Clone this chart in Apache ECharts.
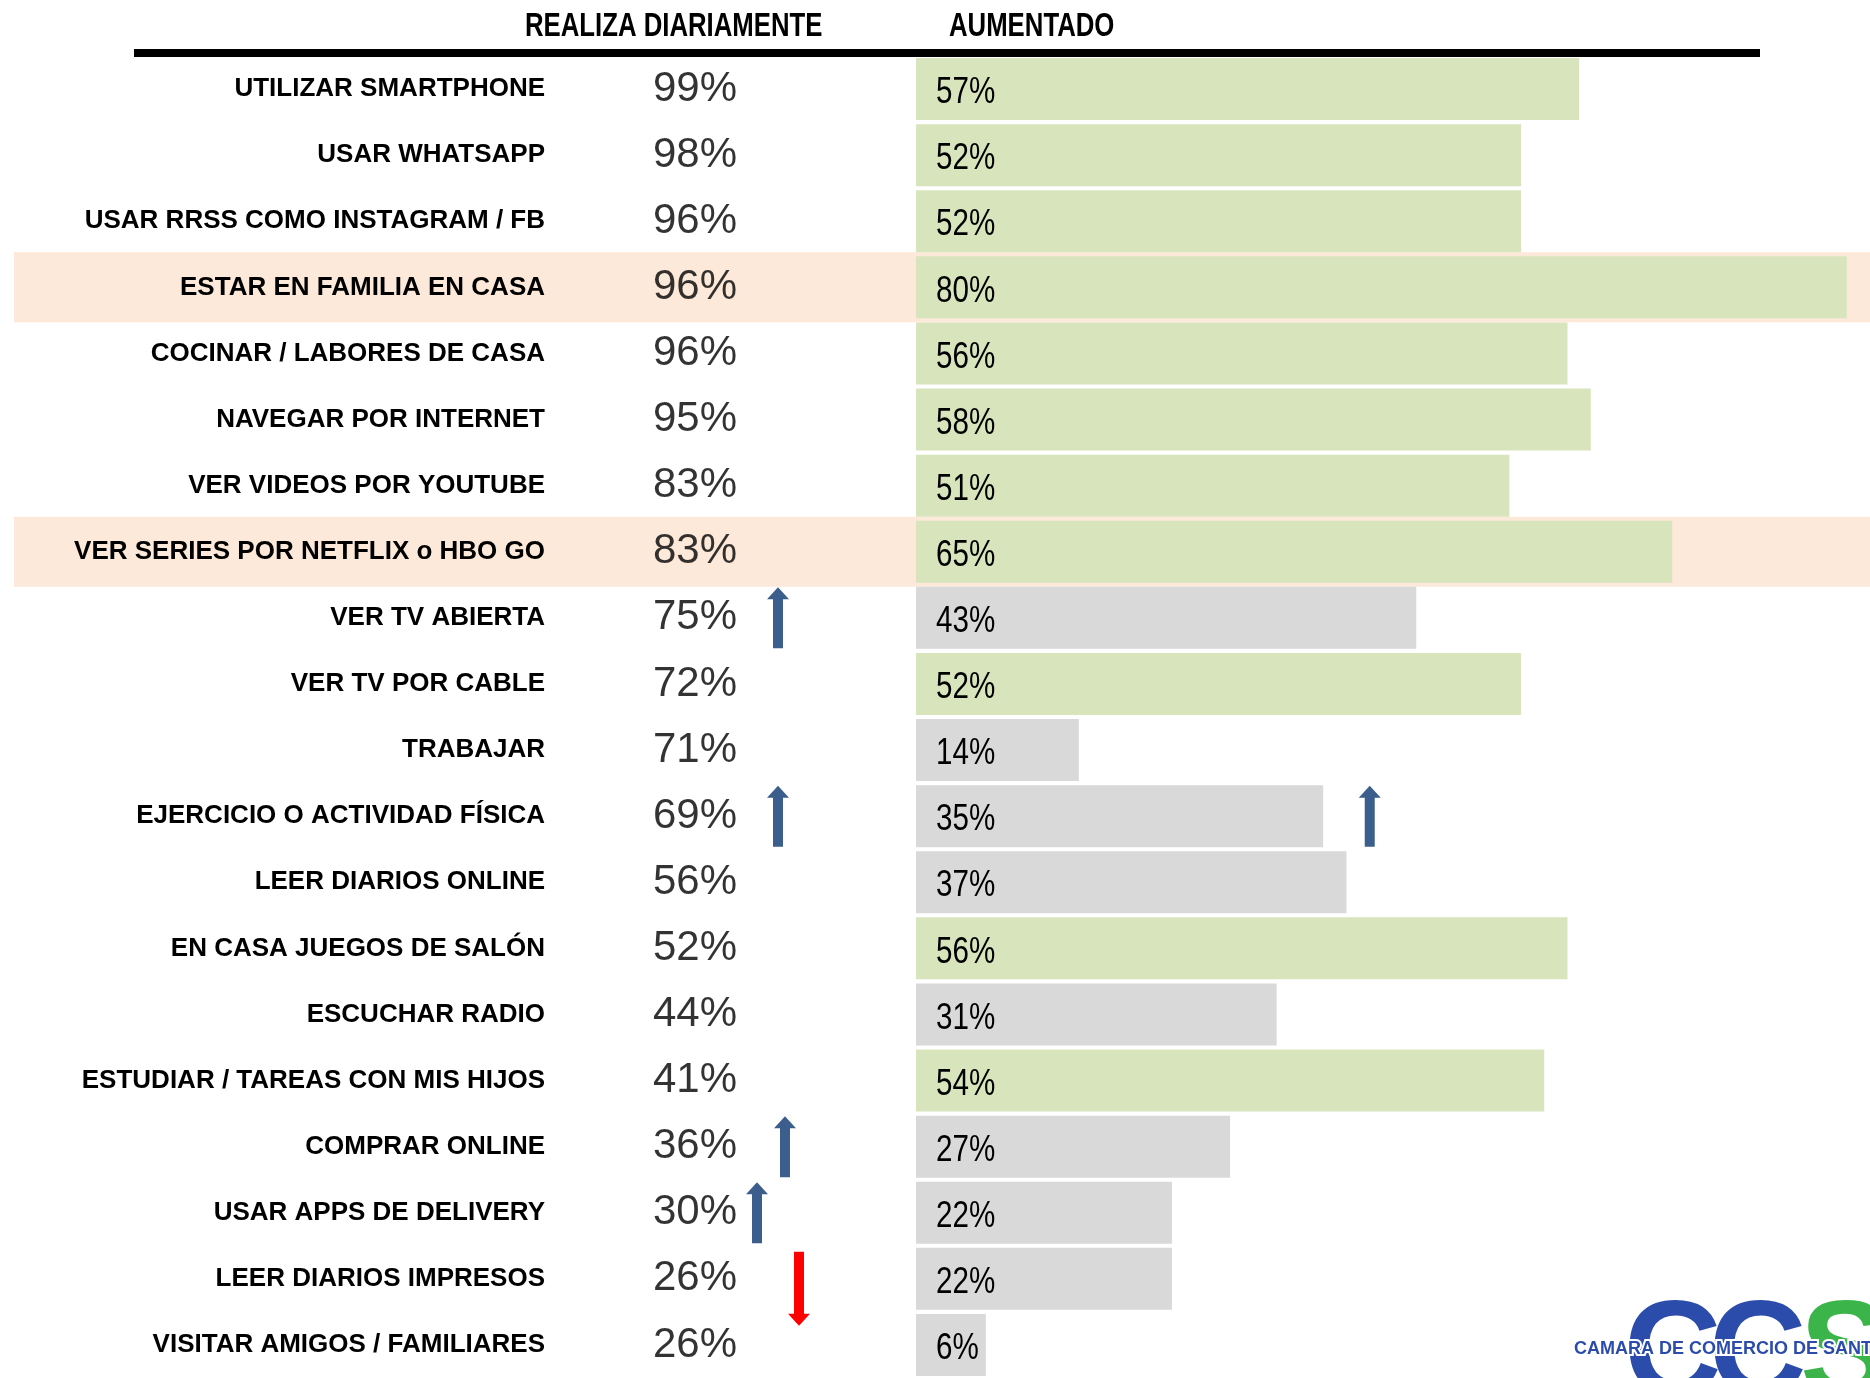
<!DOCTYPE html>
<html>
<head>
<meta charset="utf-8">
<script src="https://cdn.jsdelivr.net/npm/echarts@6/dist/echarts.min.js"></script>
<style>
  html, body { margin: 0; padding: 0; background: #fff; }
  #main { width: 1870px; height: 1378px; }
</style>
</head>
<body>
<div id="main"></div>
<script>
// datos
const activities = [
  'UTILIZAR SMARTPHONE',
  'USAR WHATSAPP',
  'USAR RRSS COMO INSTAGRAM / FB',
  'ESTAR EN FAMILIA EN CASA',
  'COCINAR / LABORES DE CASA',
  'NAVEGAR POR INTERNET',
  'VER VIDEOS POR YOUTUBE',
  'VER SERIES POR NETFLIX o HBO GO',
  'VER TV ABIERTA',
  'VER TV POR CABLE',
  'TRABAJAR',
  'EJERCICIO O ACTIVIDAD FÍSICA',
  'LEER DIARIOS ONLINE',
  'EN CASA JUEGOS DE SALÓN',
  'ESCUCHAR RADIO',
  'ESTUDIAR / TAREAS CON MIS HIJOS',
  'COMPRAR ONLINE',
  'USAR APPS DE DELIVERY',
  'LEER DIARIOS IMPRESOS',
  'VISITAR AMIGOS / FAMILIARES'
];
const dailyPct = [99, 98, 96, 96, 96, 95, 83, 83, 75, 72, 71, 69, 56, 52, 44, 41, 36, 30, 26, 26];
const increasedPct = [57, 52, 52, 80, 56, 58, 51, 65, 43, 52, 14, 35, 37, 56, 31, 54, 27, 22, 22, 6];
// 1 = barra verde, 0 = barra gris
const greenRows = [1, 1, 1, 1, 1, 1, 1, 1, 0, 1, 0, 0, 0, 1, 0, 1, 0, 0, 0, 0];
// filas destacadas (fondo naranja)
const highlightRows = [0, 0, 0, 1, 0, 0, 0, 1, 0, 0, 0, 0, 0, 0, 0, 0, 0, 0, 0, 0];
// flechas de tendencia: fila, dirección
const dailyTrends = [[8, 'up'], [11, 'up'], [16, 'up'], [17, 'up'], [18, 'down']];
const increasedTrends = [[11, 'up']];

// layout
const ROWS_TOP = 56;
const ROWS_HEIGHT = 1327;
const DAILY_X = 135;
const ARROW_X = { 8: 218, 11: 218, 16: 225, 17: 197, 18: 239 };
const ARROW_BAR_VALUE = 39;
const BAR_H = 62;
const BLUE = '#3B5E8C';
const RED = '#FF0000';
const UP_PATH = 'path://M11,0 L22,12 L16,12 L16,61 L6,61 L6,12 L0,12 Z';
const DOWN_PATH = 'path://M6,0 L16,0 L16,62 L22,62 L11,74 L0,62 L6,62 Z';
const SANS = "'Liberation Sans', Arial, sans-serif";

function arrowItem(x, row, dir) {
  const up = dir === 'up';
  return {
    value: [x, activities[row]],
    symbol: up ? UP_PATH : DOWN_PATH,
    symbolSize: up ? [22, 61] : [22, 74],
    symbolOffset: up ? [0, 0] : [0, 10],
    itemStyle: { color: up ? BLUE : RED, opacity: 1 }
  };
}

const catAxis = (gridIndex, showLabels) => ({
  type: 'category',
  gridIndex,
  data: activities,
  inverse: true,
  z: 10,
  axisLine: { show: false },
  axisTick: { show: false },
  splitLine: { show: false },
  axisLabel: showLabels ? {
    show: true,
    margin: 15,
    fontFamily: SANS,
    fontWeight: 'bold',
    fontSize: 26,
    color: '#000'
  } : { show: false }
});

// barras con texto condensado
function renderBar(params, api) {
  const v = api.value(0);
  const row = api.value(1);
  const start = api.coord([0, row]);
  const end = api.coord([v, row]);
  return {
    type: 'group',
    children: [
      {
        type: 'rect',
        shape: { x: start[0], y: start[1] - BAR_H / 2, width: end[0] - start[0], height: BAR_H },
        style: { fill: api.value(2) ? '#D8E4BC' : '#D9D9D9' }
      },
      {
        type: 'text',
        x: start[0] + 20,
        y: start[1] + 4,
        scaleX: 0.8,
        style: {
          text: v + '%',
          font: '37px ' + SANS,
          fill: '#000',
          align: 'left',
          verticalAlign: 'middle'
        }
      }
    ]
  };
}

const option = {
  backgroundColor: '#fff',
  animation: false,
  grid: [
    { left: 14, right: 0, top: ROWS_TOP, height: ROWS_HEIGHT },
    { left: 560, width: 340, top: ROWS_TOP, height: ROWS_HEIGHT },
    { left: 916, right: 0, top: ROWS_TOP, height: ROWS_HEIGHT }
  ],
  xAxis: [
    { type: 'value', gridIndex: 0, min: 0, max: 1, show: false },
    { type: 'value', gridIndex: 1, min: 0, max: 340, show: false },
    { type: 'value', gridIndex: 2, min: 0, max: 82, show: false }
  ],
  yAxis: [catAxis(0, false), catAxis(1, true), catAxis(2, false)],
  graphic: [
    {
      type: 'text', x: 525, y: 27, scaleX: 0.78,
      style: { text: 'REALIZA DIARIAMENTE', font: 'bold 33px ' + SANS, fill: '#000', verticalAlign: 'middle' }
    },
    {
      type: 'text', x: 949, y: 27, scaleX: 0.78,
      style: { text: 'AUMENTADO', font: 'bold 33px ' + SANS, fill: '#000', verticalAlign: 'middle' }
    },
    {
      type: 'rect', shape: { x: 134, y: 49, width: 1626, height: 8 },
      style: { fill: '#000' }
    },
    // logo
    {
      type: 'group', z: 100,
      children: [
        { type: 'text', x: 1624, y: 1358, style: { text: 'C', font: 'bold 135px ' + SANS, fill: '#2C4CAB', verticalAlign: 'middle' } },
        { type: 'text', x: 1709, y: 1358, style: { text: 'C', font: 'bold 135px ' + SANS, fill: '#2C4CAB', verticalAlign: 'middle' } },
        { type: 'text', x: 1800, y: 1358, style: { text: 'S', font: 'bold 135px ' + SANS, fill: '#3BB44A', verticalAlign: 'middle' } },
        { type: 'text', x: 1574, y: 1349, style: { text: 'CAMARA DE COMERCIO DE SANT', font: 'bold 18px ' + SANS, fill: '#2C4CAB', stroke: '#fff', lineWidth: 4, strokeFirst: true, verticalAlign: 'middle' } }
      ]
    }
  ],
  series: [
    {
      name: 'destacado',
      type: 'bar',
      xAxisIndex: 0,
      yAxisIndex: 0,
      z: 1,
      silent: true,
      barWidth: 70,
      data: highlightRows.map(h => (h ? 1 : '-')),
      itemStyle: { color: '#FDE9D9' }
    },
    {
      name: 'Realiza diariamente',
      type: 'scatter',
      xAxisIndex: 1,
      yAxisIndex: 1,
      symbolSize: 1,
      itemStyle: { color: 'rgba(0,0,0,0)' },
      data: dailyPct.map((v, i) => [DAILY_X, activities[i], v]),
      label: {
        show: true,
        position: 'inside',
        formatter: p => p.value[2] + '%',
        fontFamily: SANS,
        fontSize: 42,
        color: '#000'
      }
    },
    {
      name: 'tendencia diaria',
      type: 'scatter',
      xAxisIndex: 1,
      yAxisIndex: 1,
      z: 5,
      data: dailyTrends.map(([row, dir]) => arrowItem(ARROW_X[row], row, dir))
    },
    {
      name: 'Aumentado',
      type: 'custom',
      xAxisIndex: 2,
      yAxisIndex: 2,
      renderItem: renderBar,
      encode: { x: 0, y: 1 },
      data: increasedPct.map((v, i) => [v, i, greenRows[i]])
    },
    {
      name: 'tendencia aumentado',
      type: 'scatter',
      xAxisIndex: 2,
      yAxisIndex: 2,
      z: 5,
      data: increasedTrends.map(([row, dir]) => arrowItem(ARROW_BAR_VALUE, row, dir))
    }
  ]
};

const chart = echarts.init(document.getElementById('main'));
chart.setOption(option);
</script>
</body>
</html>
